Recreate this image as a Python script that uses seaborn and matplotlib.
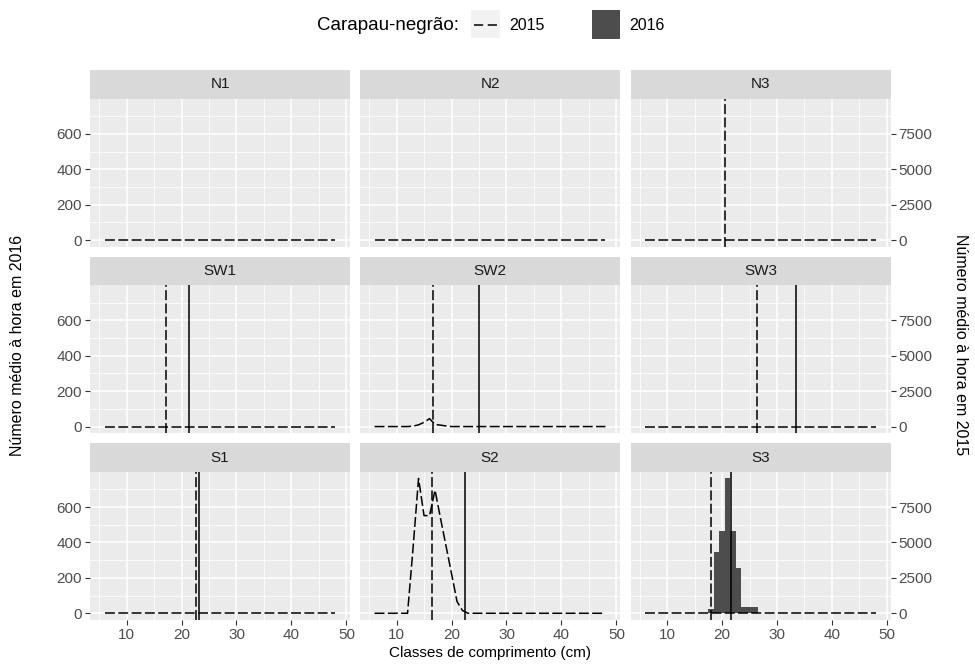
import numpy as np
import pandas as pd
import seaborn as sns
import matplotlib
matplotlib.use("Agg")
import matplotlib.pyplot as plt
from matplotlib.lines import Line2D
from matplotlib.patches import Rectangle

# ---------------- data ----------------
zones = ["N1", "N2", "N3", "SW1", "SW2", "SW3", "S1", "S2", "S3"]
classes = list(range(6, 49))

# 2015 (dashed line, right axis) - non-zero classes per zone
sw2_2015_cls = [13, 14, 15, 16, 17, 18, 19]
sw2_2015_val = [30, 120, 300, 560, 150, 100, 40]
s2_2015_cls = [13, 14, 15, 16, 17, 18, 19, 20, 21, 22]
s2_2015_val = [4600, 9525, 6900, 6900, 8700, 6700, 4750, 2800, 830, 190]

# 2016 (bars, left axis)
s2_2016_cls = [23, 24]
s2_2016_val = [4, 4]
s3_2016_cls = [18, 19, 20, 21, 22, 23, 24, 25, 26]
s3_2016_val = [25, 344, 465, 762, 465, 258, 33, 33, 33]

# mean lengths (vertical lines)
mean2015_zone = ["N3", "SW1", "SW2", "SW3", "S1", "S2", "S3"]
mean2015_val = [20.6, 17.1, 16.6, 26.4, 22.6, 16.5, 18.0]
mean2016_zone = ["SW1", "SW2", "SW3", "S1", "S2", "S3"]
mean2016_val = [21.3, 25.0, 33.4, 23.2, 22.5, 21.6]

sec_factor = 12.5
x_ticks = [10, 20, 30, 40, 50]
y_ticks = [0, 200, 400, 600]
y2_ticks = [0, 2500, 5000, 7500]

# ---------------- build table ----------------
rows = []
nz2015 = {"SW2": dict(zip(sw2_2015_cls, sw2_2015_val)),
          "S2": dict(zip(s2_2015_cls, s2_2015_val))}
nz2016 = {"S2": dict(zip(s2_2016_cls, s2_2016_val)),
          "S3": dict(zip(s3_2016_cls, s3_2016_val))}
for z in zones:
    for c in classes:
        rows.append({"zone": z, "classe": c,
                     "n2015": nz2015.get(z, {}).get(c, 0),
                     "n2016": nz2016.get(z, {}).get(c, 0)})
df = pd.DataFrame(rows)
m15 = dict(zip(mean2015_zone, mean2015_val))
m16 = dict(zip(mean2016_zone, mean2016_val))

# ---------------- figure ----------------
W, H = 975, 666
FONT = "Liberation Sans"
plt.rcParams["font.family"] = [FONT, "DejaVu Sans"]
fig = plt.figure(figsize=(W / 100, H / 100), dpi=100)

def fx(px):
    return px / W

def fy(py):
    return 1 - py / H

col_x = [90, 360, 630.5]
pw = 260
row_top = [98.5, 285, 471.7]
ph = 148.3
sh = 28.4

ylo, yhi = -38.1, 800.1
xlo, xhi = 3.35, 50.65
DASH = (0, (6.5, 2.2))
TICK_SIZE = 11

TICK_COL = "#4D4D4D"
for i, z in enumerate(zones):
    r, c = divmod(i, 3)
    x0, y0 = col_x[c], row_top[r]
    ax = fig.add_axes([fx(x0), fy(y0 + ph), pw / W, ph / H])
    ax.set_facecolor("#EBEBEB")
    sub = df[df["zone"] == z].reset_index(drop=True)
    sns.histplot(data=sub, x="classe", weights="n2016", binwidth=1,
                 binrange=(5.5, 48.5), ax=ax, color="#4D4D4D", alpha=1,
                 linewidth=0)
    ax2 = ax.twinx()
    sns.lineplot(data=sub, x="classe", y="n2015", ax=ax2, color="black",
                 lw=1.1, linestyle=DASH)
    if z in m15:
        ax2.axvline(m15[z], color="black", lw=1.1, linestyle=DASH)
    if z in m16:
        ax2.axvline(m16[z], color="black", lw=1.1)

    ax.set_xlim(xlo, xhi)
    ax.set_ylim(ylo, yhi)
    ax.set_xticks(x_ticks)
    ax.set_xticks([5, 15, 25, 35, 45], minor=True)
    ax.set_yticks(y_ticks)
    ax.set_yticks([100, 300, 500, 700], minor=True)
    ax.grid(which="major", color="white", lw=1.1)
    ax.grid(which="minor", color="white", lw=0.55)
    ax.set_axisbelow(True)
    for s in ax.spines.values():
        s.set_visible(False)
    ax.set_xlabel("")
    ax.set_ylabel("")
    ax.tick_params(which="minor", length=0)
    ax.tick_params(which="major", length=3.7, width=0.8, color="#333333",
                   labelcolor=TICK_COL, labelsize=TICK_SIZE, pad=2)
    if c == 0:
        ax.yaxis.set_ticks_position("left")
    else:
        ax.yaxis.set_ticks_position("none")
        ax.tick_params(axis="y", labelleft=False, labelright=False)
    if r != 2:
        ax.xaxis.set_ticks_position("none")
        ax.tick_params(axis="x", labelbottom=False)

    ax2.set_xlim(xlo, xhi)
    ax2.set_ylim(ylo * sec_factor, yhi * sec_factor)
    ax2.set_yticks(y2_ticks)
    ax2.set_xlabel("")
    ax2.set_ylabel("")
    ax2.grid(False)
    for s in ax2.spines.values():
        s.set_visible(False)
    ax2.xaxis.set_visible(False)
    if c == 2:
        ax2.yaxis.set_ticks_position("right")
        ax2.tick_params(which="major", length=3.7, width=0.8,
                        color="#333333", labelcolor=TICK_COL,
                        labelsize=TICK_SIZE, pad=2)
        ax2.tick_params(which="minor", length=0)
    else:
        ax2.yaxis.set_visible(False)

    # strip
    sax = fig.add_axes([fx(x0), fy(y0), pw / W, sh / H])
    sax.set_facecolor("#D9D9D9")
    sax.set_xticks([])
    sax.set_yticks([])
    for s in sax.spines.values():
        s.set_visible(False)
    sax.text(0.5, 0.5, z, ha="center", va="center", fontsize=11,
             color="#1A1A1A", transform=sax.transAxes)

# axis titles
fig.text(fx(490), fy(653), "Classes de comprimento (cm)", ha="center",
         va="center", fontsize=11, color="black")
fig.text(fx(18), fy(345), "Número médio à hora em 2016", ha="center",
         va="center", rotation=90, fontsize=11.5, color="black")
fig.text(fx(961), fy(345), "Número médio à hora em 2015", ha="center",
         va="center", rotation=-90, fontsize=11.5, color="black")

# legend
fig.text(fx(316.7), fy(25), "Carapau-negrão:", ha="left", va="center",
         fontsize=13.5, color="black")
fig.patches.append(Rectangle((fx(471), fy(38)), 29 / W, 28 / H,
                             transform=fig.transFigure, facecolor="#F2F2F2",
                             edgecolor="none"))
fig.lines.append(Line2D([fx(474), fx(497.5)], [fy(24.5), fy(24.5)],
                        transform=fig.transFigure, color="black", lw=1.1,
                        linestyle=(0, (6, 3))))
fig.text(fx(509), fy(25), "2015", ha="left", va="center", fontsize=11.5,
         color="black")
fig.patches.append(Rectangle((fx(591.7), fy(39)), 28.5 / W, 29 / H,
                             transform=fig.transFigure, facecolor="#4D4D4D",
                             edgecolor="none"))
fig.text(fx(629), fy(25), "2016", ha="left", va="center", fontsize=11.5,
         color="black")

fig.savefig("out.png", dpi=100)
